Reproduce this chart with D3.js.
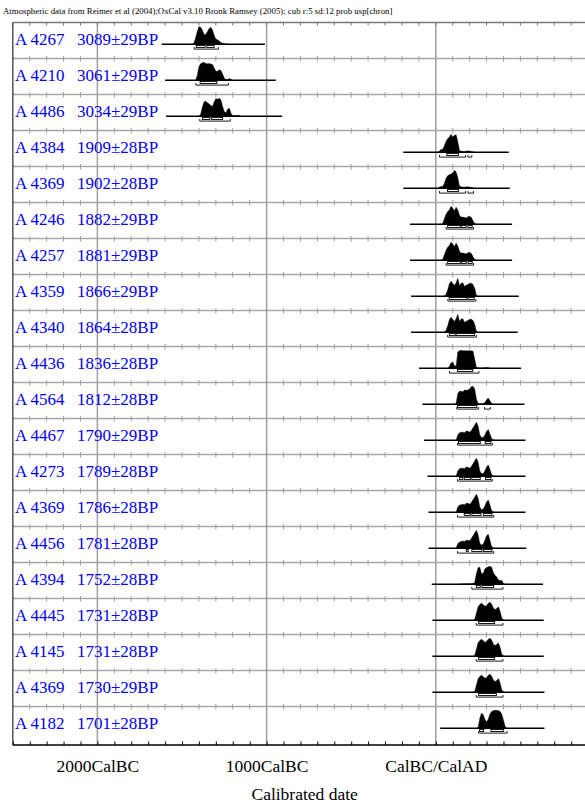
<!DOCTYPE html>
<html><head><meta charset="utf-8">
<script src="https://cdn.jsdelivr.net/npm/d3@7"></script>
<style>
html,body{margin:0;padding:0;background:#fff;overflow:hidden}
svg{display:block}
text{font-family:"Liberation Serif","Times New Roman",serif}
</style></head>
<body>
<svg id="chart" width="585" height="806"></svg>
<script>
const titleText = "Atmospheric data from Reimer et al (2004);OxCal v3.10 Bronk Ramsey (2005); cub r:5 sd:12 prob usp[chron]";
const axisTitle = "Calibrated date";
const axisLabelYears = [-2000, -1000, 0];
const axisLabelText = ["2000CalBC", "1000CalBC", "CalBC/CalAD"];

const labNames = ["A 4267","A 4210","A 4486","A 4384","A 4369","A 4246","A 4257","A 4359","A 4340","A 4436",
  "A 4564","A 4467","A 4273","A 4369","A 4456","A 4394","A 4445","A 4145","A 4369","A 4182"];
const bpDates = ["3089±29BP","3061±29BP","3034±29BP","1909±28BP","1902±28BP","1882±29BP","1881±29BP","1866±29BP",
  "1864±28BP","1836±28BP","1812±28BP","1790±29BP","1789±28BP","1786±28BP","1781±28BP","1752±28BP","1731±28BP",
  "1731±28BP","1730±29BP","1701±28BP"];

// extent of the calibration line drawn under each distribution (calendar years, BC negative)
const lineRanges = [[-1620,-1010],[-1600,-946],[-1594,-908],[-192,431],[-192,437],[-152,451],[-152,451],[-146,490],
  [-146,484],[-99,504],[-79,524],[-69,530],[-49,530],[-43,530],[-43,535],[-24,634],[-20,638],[-20,638],[-20,642],[26,642]];

// first year of each probability array (values every 10 years, relative to the peak)
const probStart = [-1440,-1420,-1400,10,10,30,30,50,50,70,110,120,120,120,120,130,220,220,220,240];
const probValues = [
  [0,0.05,0.35,0.7,0.98,0.95,0.8,0.55,0.55,0.7,0.88,0.95,0.8,0.5,0.3,0.25,0.18,0.1,0.06,0.03,0.01,0],
  [0,0.25,0.75,0.92,0.97,1.0,0.93,0.92,0.93,0.9,0.88,0.7,0.5,0.5,0.58,0.55,0.35,0.12,0.04,0.03,0.1,0.04,0],
  [0,0.1,0.5,0.8,0.85,0.75,0.7,0.6,0.55,0.8,0.98,0.95,1.0,0.9,0.55,0.25,0.2,0.4,0.45,0.15,0.05,0.03,0.05,0.05,0.04,0],
  [0,0.05,0.15,0.15,0.35,0.6,0.75,0.85,1.0,0.85,0.95,0.97,0.6,0.1,0.06,0.05,0.05,0.06,0.08,0.06,0.05,0.02,0],
  [0,0.05,0.1,0.1,0.25,0.55,0.7,0.75,0.8,0.85,1.0,0.9,0.6,0.12,0.08,0.07,0.06,0.08,0.08,0.07,0.05,0.02,0],
  [0,0.03,0.3,0.55,0.7,0.8,1.0,0.9,0.75,0.95,0.8,0.5,0.4,0.4,0.38,0.35,0.42,0.45,0.38,0.2,0.05,0],
  [0,0.03,0.3,0.55,0.72,0.82,1.0,0.9,0.75,0.95,0.8,0.5,0.4,0.4,0.38,0.36,0.42,0.45,0.38,0.2,0.05,0],
  [0,0.1,0.35,0.7,0.84,0.72,0.6,0.75,1.0,0.6,0.72,0.75,0.55,0.62,0.65,0.73,0.72,0.65,0.45,0.05,0],
  [0,0.1,0.35,0.7,0.84,0.72,0.6,0.75,1.0,0.6,0.74,0.75,0.55,0.62,0.66,0.73,0.72,0.65,0.45,0.05,0],
  [0,0.1,0.3,0.35,0.15,0.12,0.9,0.98,1.0,0.98,0.98,0.97,0.97,0.98,0.97,0.95,0.5,0.05,0.03,0.02,0.02,0.02,0.03,0.05,0.03,0],
  [0,0.05,0.6,0.72,0.72,0.7,0.8,0.78,0.8,0.85,0.98,1.0,0.85,0.3,0.05,0.03,0.03,0.04,0.1,0.25,0.35,0.2,0.05,0],
  [0,0.3,0.42,0.45,0.45,0.42,0.52,0.5,0.45,0.55,0.7,0.85,1.0,0.8,0.3,0.15,0.15,0.3,0.5,0.6,0.35,0.1,0.02,0],
  [0,0.3,0.42,0.45,0.45,0.42,0.52,0.5,0.45,0.55,0.7,0.85,1.0,0.8,0.3,0.15,0.15,0.3,0.52,0.63,0.38,0.1,0.02,0],
  [0,0.3,0.4,0.42,0.45,0.42,0.5,0.5,0.45,0.55,0.7,0.85,1.0,0.8,0.3,0.15,0.17,0.35,0.58,0.68,0.4,0.1,0.02,0],
  [0,0.25,0.35,0.38,0.4,0.38,0.45,0.45,0.42,0.55,0.7,0.85,1.0,0.75,0.28,0.18,0.22,0.45,0.7,0.78,0.45,0.1,0.02,0],
  [0,0.01,0.02,0.02,0.02,0.03,0.03,0.03,0.03,0.05,0.1,0.6,0.92,0.95,0.6,0.6,0.85,0.93,0.97,1.0,0.95,0.65,0.5,0.4,0.25,0.2,0.22,0.05,0],
  [0,0.05,0.4,0.75,0.88,0.95,0.88,0.78,0.82,0.95,1.0,0.9,0.68,0.6,0.65,0.75,0.5,0.12,0.03,0],
  [0,0.05,0.4,0.75,0.88,0.95,0.88,0.78,0.82,0.95,1.0,0.9,0.68,0.6,0.65,0.75,0.5,0.12,0.03,0],
  [0,0.05,0.4,0.75,0.88,0.95,0.88,0.78,0.82,0.95,1.0,0.9,0.68,0.6,0.66,0.76,0.52,0.13,0.03,0],
  [0,0.05,0.55,0.85,0.75,0.5,0.35,0.5,0.8,0.93,0.98,1.0,1.0,0.98,0.93,0.78,0.45,0.1,0]
];

// 68.2% and 95.4% highest probability ranges
const range68 = [
  [[-1416,-1363],[-1353,-1310]], [[-1393,-1294]], [[-1380,-1335],[-1325,-1260]],
  [[65,134]], [[69,134]], [[70,145],[150,180],[190,215]], [[70,145],[150,180],[190,215]],
  [[79,184],[190,227]], [[80,115],[120,230]], [[128,219]], [[128,243]],
  [[134,263],[292,326]], [[140,160],[168,207],[213,263],[294,326]], [[168,204],[213,267],[282,332]],
  [[180,192],[213,273],[282,332]], [[239,263],[273,342]], [[253,348]], [[253,348]], [[253,358]],
  [[259,283],[326,401]]
];
const range95 = [
  [[-1428,-1285]], [[-1418,-1226]], [[-1395,-1215]], [[22,176],[190,213]], [[22,176],[190,223]],
  [[61,223]], [[61,223]], [[71,237]], [[70,240]], [[81,255]], [[124,253],[288,322]],
  [[128,334]], [[128,334]], [[128,342]], [[128,342]], [[213,397]], [[239,397]], [[239,397]], [[239,397]],
  [[253,421]]
];

const svg = d3.select("#chart");
const x = d3.scaleLinear().domain([-2500, 950]).range([12.8, 12.8 + 3450 * 0.1692]);
const rowH = 36;
const top0 = 22.5;
const bottomY = 745;
const peakH = 18;
const ticks = d3.range(-2500, 951, 100);
const rows = d3.range(labNames.length);

// title
svg.append("text").attr("x", 3).attr("y", 14).attr("font-size", 8.8).attr("fill", "#000").text(titleText);

// gridlines
svg.append("g").selectAll("line").data(axisLabelYears).join("line")
  .attr("x1", d => x(d)).attr("x2", d => x(d)).attr("y1", top0).attr("y2", bottomY)
  .attr("stroke", "#a0a0a0").attr("stroke-width", 1.5);

// row separators with ticks
const sep = svg.append("g");
rows.forEach(i => {
  const y = top0 + i * rowH;
  sep.append("line").attr("x1", x(-2500)).attr("x2", 585).attr("y1", y).attr("y2", y)
    .attr("stroke", i === 0 ? "#777" : "#a8a8a8").attr("stroke-width", i === 0 ? 1.5 : 1.3);
  sep.append("g").selectAll("line").data(ticks).join("line")
    .attr("x1", d => x(d)).attr("x2", d => x(d))
    .attr("y1", i === 0 ? y : y - 2.5).attr("y2", y + 3)
    .attr("stroke", i === 0 ? "#777" : "#a0a0a0").attr("stroke-width", 1);
});

// left frame
svg.append("line").attr("x1", x(-2500)).attr("x2", x(-2500)).attr("y1", top0).attr("y2", bottomY)
  .attr("stroke", "#555").attr("stroke-width", 1.5);

// bottom axis
const axis = d3.axisBottom(x).tickValues(ticks).tickSizeInner(-3.5).tickSizeOuter(0).tickPadding(15)
  .tickFormat(d => { const k = axisLabelYears.indexOf(d); return k >= 0 ? axisLabelText[k] : ""; });
const ax = svg.append("g").attr("transform", `translate(0,${bottomY})`).call(axis);
ax.select(".domain").attr("stroke", "#000").attr("stroke-width", 1.5).attr("d", `M${x(-2500)},0H585`);
ax.selectAll(".tick line").attr("stroke", "#000").attr("stroke-width", 1);
ax.selectAll(".tick text").attr("font-size", 17.5).attr("fill", "#000")
  .attr("font-family", '"Liberation Serif","Times New Roman",serif');

svg.append("text").attr("x", (x.range()[0] + x.range()[1]) / 2).attr("y", 800)
  .attr("text-anchor", "middle").attr("font-size", 17.5).text(axisTitle);

// rows
const area = d3.area().x(d => x(d[0])).y1(d => d[1]).curve(d3.curveLinear);
rows.forEach(i => {
  const base = 44.3 + i * rowH;
  const g = svg.append("g");
  g.append("text").attr("x", 15).attr("y", base + 1).attr("font-size", 17).attr("fill", "#0000ff").text(labNames[i]);
  g.append("text").attr("x", 77).attr("y", base + 1).attr("font-size", 17).attr("fill", "#0000ff").text(bpDates[i]);
  const pts = probValues[i].map((v, k) => [probStart[i] + 10 * k, base - v * peakH]);
  g.append("path").datum(pts).attr("d", area.y0(base)).attr("fill", "#000").attr("stroke", "#000").attr("stroke-width", 0.4);
  g.append("line").attr("x1", x(lineRanges[i][0])).attr("x2", x(lineRanges[i][1]))
    .attr("y1", base).attr("y2", base).attr("stroke", "#000").attr("stroke-width", 1.5);
  g.selectAll("rect.r68").data(range68[i]).join("rect").attr("class", "r68")
    .attr("x", d => x(d[0])).attr("width", d => x(d[1]) - x(d[0]))
    .attr("y", base + 1.2).attr("height", 2).attr("fill", "#fff").attr("stroke", "#000").attr("stroke-width", 0.9);
  g.selectAll("path.r95").data(range95[i]).join("path").attr("class", "r95")
    .attr("d", d => `M${x(d[0])},${base + 2.8}V${base + 4.8}H${x(d[1])}V${base + 2.8}`)
    .attr("fill", "none").attr("stroke", "#000").attr("stroke-width", 0.9);
});
</script>
</body></html>
